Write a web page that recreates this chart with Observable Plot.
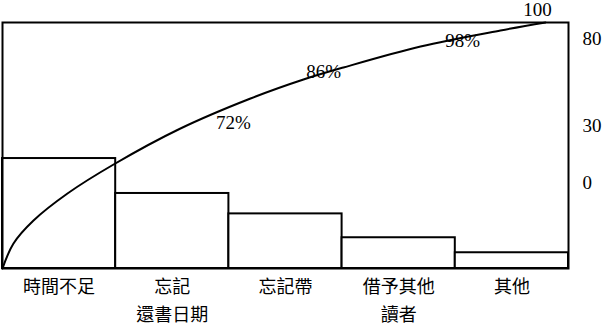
<!DOCTYPE html>
<html>
<head>
<meta charset="utf-8">
<script src="https://cdn.jsdelivr.net/npm/d3@7"></script>
<script src="https://cdn.jsdelivr.net/npm/@observablehq/plot@0.6"></script>
<style>
  html, body { margin: 0; padding: 0; background: #fff; }
  svg { display: block; }
</style>
</head>
<body>
<div id="chart"></div>
<script>
// Categories (x-axis labels) and bar values
const categories = ["時間不足", "忘記\n還書日期", "忘記帶", "借予其他\n讀者", "其他"];
const barValues = [44.7, 30.5, 22.2, 12.5, 6.4];

// Cumulative curve
const curveX = [0, 0.097, 0.274, 0.574, 0.981, 1.572, 2.191, 2.659, 3.012, 3.693, 4.399, 4.797];
const curveY = [0, 10.16, 19.51, 30.49, 42.28, 56.91, 69.11, 76.83, 81.71, 90.24, 96.75, 100];

// Cumulative labels
const pctLabels = ["72%", "86%", "98%", "100"];
const pctX = [2.04, 2.836, 4.064, 4.726];
const pctY = [59.3, 80.1, 92.7, 105.3];

// Right-hand tick labels
const rightLabels = ["80", "30", "0"];
const rightTicks = [93.5, 58.1, 34.6];

const bars = categories.map((c, i) => ({x1: i, x2: i + 1, v: barValues[i]}));
const curve = curveX.map((x, i) => ({x, y: curveY[i]}));
const labels = pctLabels.map((t, i) => ({t, x: pctX[i], y: pctY[i]}));
const catTicks = categories.map((c, i) => i + 0.5);
const serif = "'Liberation Serif', 'DejaVu Serif', serif";

const chart = Plot.plot({
  width: 604,
  height: 328,
  marginLeft: 2,
  marginRight: 36,
  marginTop: 22,
  marginBottom: 60,
  x: {domain: [0, 5]},
  y: {domain: [0, 100]},
  style: {background: "#fff", color: "#000"},
  marks: [
    Plot.rectY(bars, {x1: "x1", x2: "x2", y: "v", fill: "#fff", stroke: "#000", strokeWidth: 2}),
    Plot.line(curve, {x: "x", y: "y", curve: "catmull-rom", stroke: "#000", strokeWidth: 2}),
    Plot.frame({stroke: "#000", strokeWidth: 2}),
    Plot.text(labels, {x: "x", y: "y", text: "t", fontSize: 19, fontFamily: serif, fill: "#000"}),
    Plot.axisX(catTicks, {
      tickSize: 0, tickPadding: 5,
      tickFormat: d => categories[catTicks.indexOf(d)],
      fontSize: 18, lineHeight: 1.55,
      fontFamily: "'Noto Sans CJK TC', sans-serif", fill: "#000"
    }),
    Plot.axisY(rightTicks, {
      anchor: "right", tickSize: 0, tickPadding: 14,
      tickFormat: d => rightLabels[rightTicks.indexOf(d)],
      fontSize: 19, fontFamily: serif, fill: "#000"
    })
  ]
});
document.getElementById("chart").appendChild(chart);
</script>
</body>
</html>
